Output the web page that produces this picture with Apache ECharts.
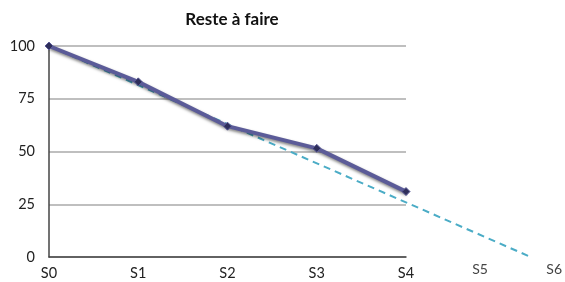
<!DOCTYPE html>
<html><head><meta charset="utf-8">
<script src="https://cdn.jsdelivr.net/npm/echarts@6/dist/echarts.min.js"></script>
<style>html,body{margin:0;padding:0;background:#fff}#c{width:565px;height:282px}</style>
</head><body><div id="c"></div>
<script>
var categories = ['S0','S1','S2','S3','S4','S5','S6'];
var yTicks = [0, 25, 50, 75, 100];
var resteAFaire = [100, 83, 62, 51.5, 31];
var idealX = [0, 5.37];
var idealY = [100, 0.5];
var titleText = 'Reste à faire';

var chart = echarts.init(document.getElementById('c'));
var font = 'Lato, "Open Sans", sans-serif';
chart.setOption({
  animation: false,
  backgroundColor: '#fff',
  title: {text: titleText, left: 227, top: 6, textAlign: 'center',
    textStyle: {fontFamily: font, fontSize: 17, fontWeight: 'bold', color: '#111'}},
  grid: [
    {left: 49, right: 159, top: 46, bottom: 25},
    {left: 406, right: 10, top: 46, bottom: 29},
    {left: 49, right: 25.125, top: 46, bottom: 25}
  ],
  xAxis: [
    {type: 'value', gridIndex: 0, min: 0, max: 4, interval: 1,
     axisLine: {show: true, lineStyle: {color: '#444', width: 1.5}},
     axisTick: {show: false}, splitLine: {show: false},
     axisLabel: {formatter: function(v){return categories[v];}, color: '#222', fontFamily: font, fontSize: 14.5, margin: 9}},
    {type: 'value', gridIndex: 1, min: 4, max: 6, interval: 1,
     axisLine: {show: false}, axisTick: {show: false}, splitLine: {show: false},
     axisLabel: {formatter: function(v){return v > 4 ? categories[v] : '';}, color: '#444', fontFamily: font, fontSize: 14, margin: 9}},
    {type: 'value', gridIndex: 2, min: 0, max: 5.5, show: false}
  ],
  yAxis: [
    {type: 'value', gridIndex: 0, min: yTicks[0], max: yTicks[yTicks.length-1], interval: 25,
     axisLine: {show: true, lineStyle: {color: '#444', width: 1.5}},
     axisTick: {show: false},
     splitLine: {show: true, lineStyle: {color: '#aaa', width: 1.5}},
     axisLabel: {color: '#222', fontFamily: font, fontSize: 14.5, margin: 14}},
    {type: 'value', gridIndex: 1, min: 0, max: 100, show: false},
    {type: 'value', gridIndex: 2, min: 0, max: 100, show: false}
  ],
  series: [
    {type: 'line', xAxisIndex: 2, yAxisIndex: 2, clip: false,
     data: idealX.map(function(x,i){return [x, idealY[i]];}),
     symbol: 'none',
     lineStyle: {color: '#4bacc6', width: 2, type: [7, 5]}},
    {type: 'line', xAxisIndex: 0, yAxisIndex: 0, clip: false,
     data: resteAFaire.map(function(v,i){return [i, v];}),
     symbol: 'diamond', symbolSize: 8,
     itemStyle: {color: '#2e2e5a', borderColor: '#5b5b98', borderWidth: 1},
     lineStyle: {color: '#5b5b98', width: 4, shadowColor: 'rgba(0,0,0,0.5)', shadowBlur: 3, shadowOffsetY: 2, shadowOffsetX: 1}}
  ]
});
</script></body></html>
